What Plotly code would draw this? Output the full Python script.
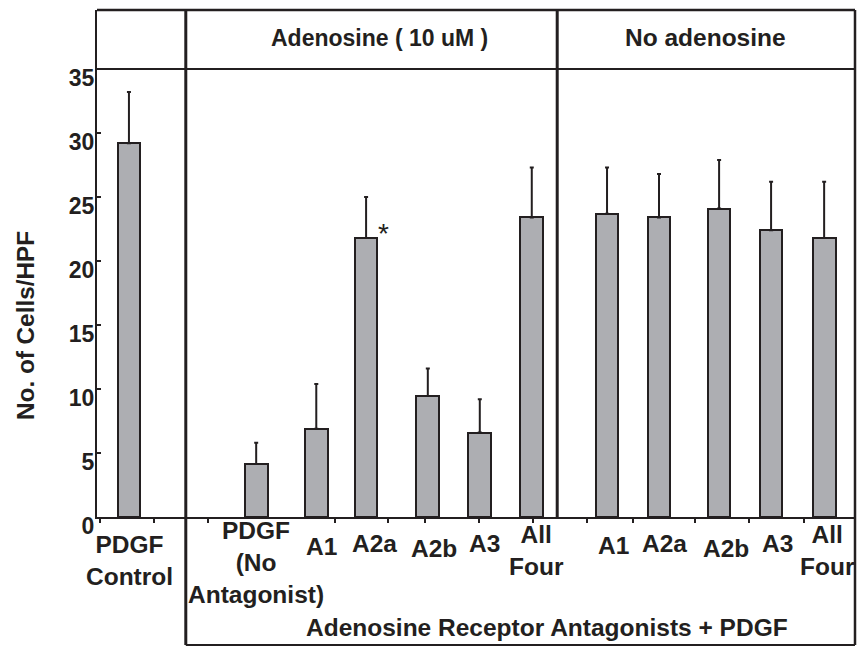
import plotly.graph_objects as go

# ---- data ----
categories = ["PDGF<br>Control", "PDGF<br>(No<br>Antagonist)", "A1", "A2a", "A2b", "A3",
              "All<br>Four", "A1", "A2a", "A2b", "A3", "All<br>Four"]
groups = ["Control"] + ["Adenosine ( 10 uM )"] * 6 + ["No adenosine"] * 5
means = [29.2, 4.15, 6.9, 21.8, 9.45, 6.6, 23.4, 23.7, 23.4, 24.1, 22.4, 21.8]
errors = [4.0, 1.65, 3.5, 3.2, 2.15, 2.6, 3.9, 3.6, 3.4, 3.8, 3.8, 4.4]
significant = [False, False, False, True, False, False, False, False, False, False, False, False]
y_ticks = [0, 5, 10, 15, 20, 25, 30, 35]
header_labels = ["Adenosine ( 10 uM )", "No adenosine"]
x_title = "Adenosine Receptor Antagonists + PDGF"
y_title = "No. of Cells/HPF"

# ---- layout helpers (positions / styles) ----
x_pos = [0.54, 2.89, 4.0, 4.92, 6.06, 7.02, 7.98, 9.37, 10.33, 11.44, 12.40, 13.38]
label_mid_px = [560, 562, 546, 543, 548, 543, 550, 545, 543, 548, 543, 550]
label_dx = [1, 0, 5, 8, 6, 5, 5, 6, 5, 7, 6, 3]
minor_ticks = [0, 1, 2, 4.34, 5.32, 6, 7, 8, 9, 9.85, 11, 12, 13]
x_range = [-0.05, 13.95]
y_top = 39.61
div1, div2 = 1.59, 8.45
header_x = [5.16, 11.18]
header_size = [23, 24.5]
x_title_x = 8.26

INK = "#231f20"
FILL = "#adaeb2"
FONT = "Liberation Sans, Arial, Helvetica, sans-serif"
W, H = 857, 646
ML, MR, MT, MB = 97, 2, 10, 129
plot_h = H - MT - MB


def py(px):
    """pixel row -> paper y"""
    return (H - MB - px) / plot_h


fig = go.Figure()
fig.add_trace(go.Bar(
    x=x_pos, y=means, width=0.42,
    marker=dict(color=FILL, line=dict(color=INK, width=2)),
    error_y=dict(type="data", symmetric=False, array=errors,
                 arrayminus=[0] * len(errors), color=INK, thickness=2, width=2),
    hovertext=[f"{g}: {c}" for g, c in zip(groups, categories)],
    showlegend=False,
))

annotations = []
for xp, lab, mid, dx in zip(x_pos, categories, label_mid_px, label_dx):
    annotations.append(dict(
        x=xp, xref="x", y=py(mid), yref="paper", text=lab, showarrow=False,
        xanchor="center", yanchor="middle", xshift=dx, align="center",
        font=dict(family=FONT, size=24.5, color=INK, weight="bold"),
    ))
for xp, m, e, s in zip(x_pos, means, errors, significant):
    if s:
        annotations.append(dict(
            x=xp, xref="x", y=m, yref="y", text="*", showarrow=False,
            xanchor="center", yanchor="middle", xshift=17, yshift=4,
            font=dict(family=FONT, size=28, color=INK),
        ))
for hx, ht, hs in zip(header_x, header_labels, header_size):
    annotations.append(dict(
        x=hx, xref="x", y=py(38), yref="paper", text=ht, showarrow=False,
        xanchor="center", yanchor="middle",
        font=dict(family=FONT, size=hs, color=INK, weight="bold"),
    ))
annotations.append(dict(
    x=x_title_x, xref="x", y=py(627), yref="paper", text=x_title, showarrow=False,
    xanchor="center", yanchor="middle",
    font=dict(family=FONT, size=24.5, color=INK, weight="bold"),
))
annotations.append(dict(
    x=(25 - ML) / (W - ML - MR), xref="paper", y=py(326), yref="paper", text=y_title,
    showarrow=False, textangle=-90, xanchor="center", yanchor="middle",
    font=dict(family=FONT, size=24.3, color=INK, weight="bold"),
))

bottom_paper = py(645)
shapes = [
    dict(type="line", xref="paper", yref="paper", x0=0, x1=1, y0=1, y1=1,
         line=dict(color=INK, width=2.5)),
    dict(type="line", xref="paper", yref="y", x0=0, x1=1, y0=35, y1=35,
         line=dict(color=INK, width=2)),
    dict(type="line", xref="x", yref="paper", x0=div1, x1=div1, y0=bottom_paper, y1=1,
         line=dict(color=INK, width=3)),
    dict(type="line", xref="x", yref="paper", x0=div2, x1=div2, y0=0, y1=1,
         line=dict(color=INK, width=3)),
    dict(type="line", xref="paper", yref="paper", x0=1, x1=1, y0=bottom_paper, y1=1,
         line=dict(color=INK, width=2.5)),
    dict(type="line", xref="x", yref="paper", x0=div1, x1=x_range[1], y0=bottom_paper,
         y1=bottom_paper, line=dict(color=INK, width=2)),
]

fig.update_layout(
    width=W, height=H,
    margin=dict(l=ML, r=MR, t=MT, b=MB, pad=0),
    paper_bgcolor="white", plot_bgcolor="white",
    annotations=annotations, shapes=shapes,
    bargap=0,
    xaxis=dict(range=x_range, showgrid=False, zeroline=False, showline=True,
               linecolor=INK, linewidth=2, ticks="outside", ticklen=4, tickwidth=1.5,
               tickcolor=INK, tickvals=minor_ticks, showticklabels=False),
    yaxis=dict(range=[0, y_top], showgrid=False, zeroline=False, showline=True,
               linecolor=INK, linewidth=2, ticks="inside", ticklen=4, tickwidth=2,
               tickcolor=INK, tickvals=y_ticks, ticktext=[str(v) for v in y_ticks],
               ticklabelshift=9, ticklabelstandoff=-4,
               tickfont=dict(family=FONT, size=23, color=INK, weight="bold")),
)

fig.write_html("out.html")
